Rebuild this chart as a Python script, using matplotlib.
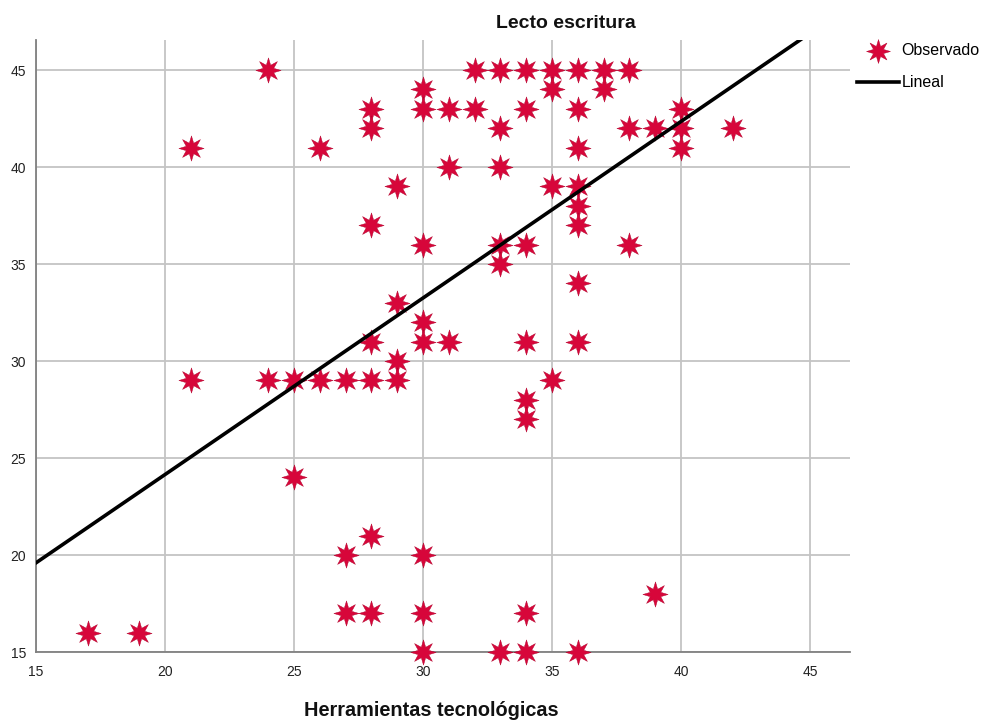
import numpy as np
import matplotlib
matplotlib.use('Agg')
import matplotlib.pyplot as plt
from matplotlib.path import Path

# datos: (herramientas, lecto escritura)
herramientas = [24, 32, 33, 34, 35, 36, 37, 38,
                30, 35, 37,
                28, 30, 31, 32, 34, 36, 40,
                28, 33, 38, 39, 40, 42,
                21, 26, 36, 40,
                31, 33,
                29, 35, 36,
                36,
                28, 36,
                30, 33, 34, 38,
                33, 36, 29, 30,
                28, 30, 31, 34, 36,
                29,
                21, 24, 25, 26, 27, 28, 29, 35,
                34, 34, 25, 28,
                27, 30,
                39,
                27, 28, 30, 34,
                17, 19,
                30, 33, 34, 36]
lecto = [45] * 8 + [44] * 3 + [43] * 7 + [42] * 6 + [41] * 4 + [40] * 2 + [39] * 3 + \
        [38] + [37] * 2 + [36] * 4 + [35, 34, 33, 32] + [31] * 5 + [30] + [29] * 8 + \
        [28, 27, 24, 21] + [20] * 2 + [18] + [17] * 4 + [16] * 2 + [15] * 4

# recta de ajuste lineal
intercepto = 5.95
pendiente = 0.91

x_ticks = [15, 20, 25, 30, 35, 40, 45]
y_ticks = [15, 20, 25, 30, 35, 40, 45]

rojo = '#D7063A'

# estrella de 8 puntas como en SPSS
n = 8
ang = np.linspace(0, 2 * np.pi, 2 * n, endpoint=False) + np.pi / 2
rad = np.where(np.arange(2 * n) % 2 == 0, 1.0, 0.45)
verts = np.column_stack([rad * np.cos(ang), rad * np.sin(ang)])
verts = np.vstack([verts, verts[:1]])
codes = [Path.MOVETO] + [Path.LINETO] * (2 * n - 1) + [Path.CLOSEPOLY]
estrella = Path(verts, codes)

plt.rcParams['font.family'] = ['Liberation Sans', 'DejaVu Sans']

fig = plt.figure(figsize=(9.9, 7.24), dpi=100)
ax = fig.add_axes([0.0364, 0.0994, 0.8222, 0.8454])

ax.set_xlim(15, 46.55)
ax.set_ylim(15, 46.55)
ax.set_xticks(x_ticks)
ax.set_yticks(y_ticks)
ax.grid(True, color='#c4c4c4', linewidth=1.3)
ax.set_axisbelow(True)

ax.scatter(herramientas, lecto, marker=estrella, s=330, color=rojo,
           linewidths=0.3, edgecolors='#b0002a', zorder=3, clip_on=False,
           label='Observado')

xl = np.array([15, 46.55])
ax.plot(xl, intercepto + pendiente * xl, color='black', linewidth=2.6,
        zorder=4, label='Lineal')

for s in ['top', 'right']:
    ax.spines[s].set_visible(False)
for s in ['left', 'bottom']:
    ax.spines[s].set_color('#808080')
    ax.spines[s].set_linewidth(1.3)

ax.tick_params(length=0, labelsize=10, colors='#222222')
ax.tick_params(axis='x', pad=9)
ax.tick_params(axis='y', pad=7)

fig.text(0.572, 0.968, 'Lecto escritura', ha='center', va='center',
         fontsize=14, fontweight='bold', color='#111111')
fig.text(0.436, 0.018, 'Herramientas tecnológicas', ha='center', va='center',
         fontsize=14.3, fontweight='bold', color='#111111')

ax.legend(loc='upper left', bbox_to_anchor=(0.866, 0.941), bbox_transform=fig.transFigure,
          frameon=False, fontsize=11.5, handlelength=2.6, handletextpad=0.15,
          labelspacing=1.1, borderaxespad=0, borderpad=0, markerscale=0.95)

fig.savefig('out.png', dpi=100)
